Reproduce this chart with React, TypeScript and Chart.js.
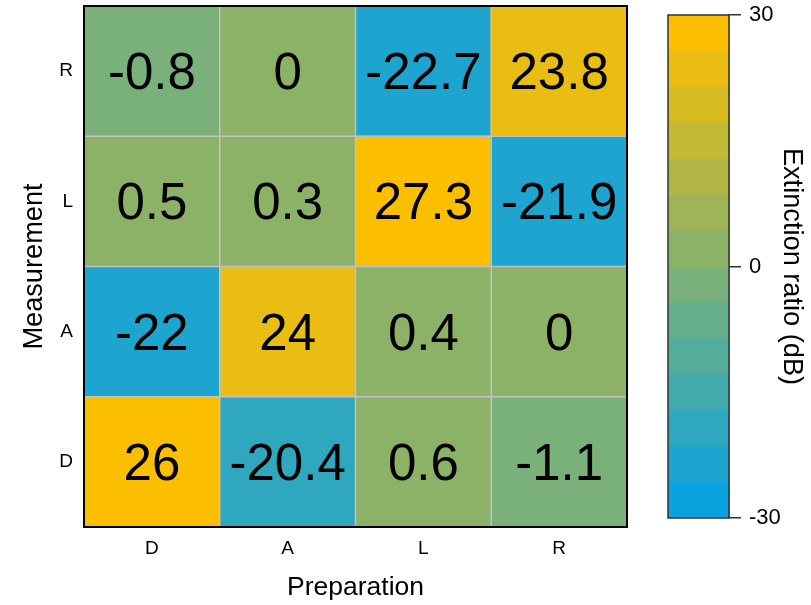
import React, { useEffect, useRef } from "react";
import { Chart, registerables } from "chart.js";

Chart.register(...registerables);

// ---- data ----
const prepLabels = ["D", "A", "L", "R"]; // x categories (Preparation)
const measLabels = ["D", "A", "L", "R"]; // y categories bottom -> top (Measurement)
const rowD = [26, -20.4, 0.6, -1.1];
const rowA = [-22, 24, 0.4, 0];
const rowL = [0.5, 0.3, 27.3, -21.9];
const rowR = [-0.8, 0, -22.7, 23.8];
const rows = [rowD, rowA, rowL, rowR];

const cbMin = -30;
const cbMax = 30;
const cbTicks = [-30, 0, 30];
// colour bands, bottom (-30) -> top (30)
const bandColors = [
  "#0aa3e0",
  "#1da5cf",
  "#2fa7be",
  "#42aaac",
  "#54ac9b",
  "#67ae8a",
  "#7ab079",
  "#8cb267",
  "#9fb456",
  "#b2b645",
  "#c4b934",
  "#d7bb22",
  "#e9bd11",
  "#fcbf00",
];

const FONT = '"Liberation Sans", Arial, Helvetica, sans-serif';

function colorFor(v: number): string {
  const n = bandColors.length;
  let i = Math.floor(((v - cbMin) / (cbMax - cbMin)) * n);
  if (i < 0) i = 0;
  if (i > n - 1) i = n - 1;
  return bandColors[i];
}

const heatDecor = {
  id: "heatDecor",
  afterDatasetsDraw(chart: any) {
    const { ctx, chartArea, scales } = chart;
    const x = scales.x;
    const y = scales.y;
    ctx.save();
    ctx.strokeStyle = "#c2c2c2";
    ctx.lineWidth = 1.5;
    for (let i = 1; i < prepLabels.length; i++) {
      const px = x.getPixelForValue(i - 0.5);
      ctx.beginPath();
      ctx.moveTo(px, chartArea.top);
      ctx.lineTo(px, chartArea.bottom);
      ctx.stroke();
    }
    for (let i = 1; i < measLabels.length; i++) {
      const py = y.getPixelForValue(i);
      ctx.beginPath();
      ctx.moveTo(chartArea.left, py);
      ctx.lineTo(chartArea.right, py);
      ctx.stroke();
    }
    ctx.fillStyle = "#000";
    ctx.font = `51px ${FONT}`;
    ctx.textAlign = "center";
    ctx.textBaseline = "alphabetic";
    rows.forEach((row, r) => {
      row.forEach((v, c) => {
        const cx = x.getPixelForValue(c);
        const cy = y.getPixelForValue(r + 0.5);
        ctx.fillText(String(v), cx, cy + 18);
      });
    });
    ctx.strokeStyle = "#000";
    ctx.lineWidth = 2;
    ctx.strokeRect(
      chartArea.left,
      chartArea.top,
      chartArea.right - chartArea.left,
      chartArea.bottom - chartArea.top
    );
    ctx.restore();
  },
};

const cbDecor = {
  id: "cbDecor",
  afterDatasetsDraw(chart: any) {
    const { ctx, chartArea } = chart;
    ctx.save();
    ctx.strokeStyle = "#333";
    ctx.lineWidth = 1.5;
    ctx.strokeRect(
      chartArea.left,
      chartArea.top,
      chartArea.right - chartArea.left,
      chartArea.bottom - chartArea.top
    );
    ctx.restore();
  },
};

function zeroPad(s: any) {
  s.paddingTop = 0;
  s.paddingBottom = 0;
  s.paddingLeft = 0;
  s.paddingRight = 0;
}

export default function App() {
  const heatRef = useRef<HTMLCanvasElement | null>(null);
  const cbRef = useRef<HTMLCanvasElement | null>(null);

  useEffect(() => {
    document.body.style.margin = "0";
    document.body.style.overflow = "hidden";

    const heat = new Chart(heatRef.current as HTMLCanvasElement, {
      type: "bar",
      data: {
        labels: prepLabels,
        datasets: rows.map((row, r) => ({
          label: measLabels[r],
          data: row.map(() => [r, r + 1]) as any,
          backgroundColor: row.map(colorFor),
          borderWidth: 0,
          inflateAmount: 0.6,
          grouped: false,
          barPercentage: 1,
          categoryPercentage: 1,
        })) as any,
      },
      options: {
        animation: false,
        responsive: false,
        maintainAspectRatio: false,
        layout: { padding: { top: 6, right: 23, left: 0, bottom: 0 } },
        plugins: { legend: { display: false }, tooltip: { enabled: false } },
        scales: {
          x: {
            type: "category",
            grid: { display: false, drawTicks: false },
            border: { display: false },
            ticks: { color: "#000", font: { family: FONT, size: 19 }, padding: 10 },
            title: {
              display: true,
              text: "Preparation",
              color: "#000",
              font: { family: FONT, size: 26.5 },
              padding: { top: 0, bottom: 1 },
            },
            afterFit: (s: any) => {
              s.height = 78;
              zeroPad(s);
            },
          },
          y: {
            type: "linear",
            min: 0,
            max: measLabels.length,
            grid: { display: false, drawTicks: false },
            border: { display: false },
            afterBuildTicks: (s: any) => {
              s.ticks = measLabels.map((_, i) => ({ value: i + 0.5 }));
            },
            ticks: {
              color: "#000",
              font: { family: FONT, size: 19 },
              padding: 11,
              callback: (v: any) => measLabels[Math.floor(Number(v))] ?? "",
            },
            title: {
              display: true,
              text: "Measurement",
              color: "#000",
              font: { family: FONT, size: 27.2 },
              padding: { top: 18, bottom: 0 },
            },
            afterFit: (s: any) => {
              s.width = 84;
              zeroPad(s);
            },
          },
        },
      },
      plugins: [heatDecor],
    } as any);

    const bandSize = (cbMax - cbMin) / bandColors.length;
    // each band reaches slightly under its lower neighbour (which is drawn on top),
    // so no white seam shows between bands
    const seam = 0.15;
    const cb = new Chart(cbRef.current as HTMLCanvasElement, {
      type: "bar",
      data: {
        labels: [""],
        datasets: bandColors.map((col, i) => ({
          data: [[cbMin + i * bandSize - (i > 0 ? seam : 0), cbMin + (i + 1) * bandSize]] as any,
          backgroundColor: col,
          borderWidth: 0,
          grouped: false,
          barPercentage: 1,
          categoryPercentage: 1,
        })) as any,
      },
      options: {
        animation: false,
        responsive: false,
        maintainAspectRatio: false,
        layout: { padding: { top: 15, left: 18, right: 0, bottom: 87 } },
        plugins: { legend: { display: false }, tooltip: { enabled: false } },
        scales: {
          x: { display: false },
          y: {
            type: "linear",
            position: "right",
            min: cbMin,
            max: cbMax,
            afterBuildTicks: (s: any) => {
              s.ticks = cbTicks.map((v) => ({ value: v }));
            },
            grid: {
              drawOnChartArea: false,
              drawTicks: true,
              tickLength: 12,
              color: "#333",
              lineWidth: 1.5,
            },
            border: { display: true, color: "#333", width: 1.5 },
            ticks: {
              color: "#000",
              font: { family: FONT, size: 22 },
              padding: 8,
              callback: (v: any) => String(v),
            },
            title: {
              display: true,
              text: "Extinction ratio (dB)",
              color: "#000",
              font: { family: FONT, size: 27.2 },
              padding: { top: 3, bottom: 0 },
            },
            afterFit: (s: any) => {
              s.width = 82;
              zeroPad(s);
            },
          },
        },
      },
      plugins: [cbDecor],
    } as any);

    return () => {
      heat.destroy();
      cb.destroy();
    };
  }, []);

  return (
    <div style={{ position: "absolute", left: 0, top: 0, width: 811, height: 605, background: "#fff" }}>
      <canvas
        ref={heatRef}
        width={650}
        height={605}
        style={{ position: "absolute", left: 0, top: 0, width: 650, height: 605 }}
      />
      <canvas
        ref={cbRef}
        width={161}
        height={605}
        style={{ position: "absolute", left: 650, top: 0, width: 161, height: 605 }}
      />
    </div>
  );
}
